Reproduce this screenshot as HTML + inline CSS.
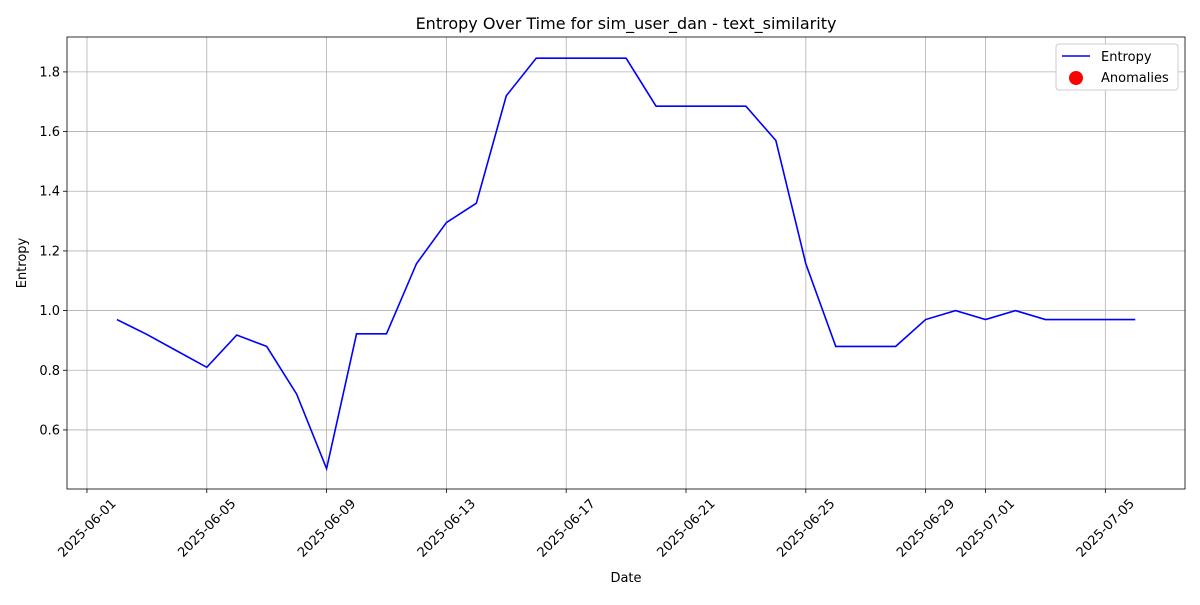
<!DOCTYPE html>
<html><head><meta charset="utf-8"><style>
body{margin:0;background:#fff;font-family:"Liberation Sans","DejaVu Sans",sans-serif;}
svg text{font-family:"DejaVu Sans","Liberation Sans",sans-serif;}
</style></head><body>
<svg id="c" width="1200" height="600" xmlns="http://www.w3.org/2000/svg"></svg>
<script>
const dates=["2025-06-02","2025-06-03","2025-06-04","2025-06-05","2025-06-06","2025-06-07","2025-06-08","2025-06-09","2025-06-10","2025-06-11","2025-06-12","2025-06-13","2025-06-14","2025-06-15","2025-06-16","2025-06-17","2025-06-18","2025-06-19","2025-06-20","2025-06-21","2025-06-22","2025-06-23","2025-06-24","2025-06-25","2025-06-26","2025-06-27","2025-06-28","2025-06-29","2025-06-30","2025-07-01","2025-07-02","2025-07-03","2025-07-04","2025-07-05","2025-07-06"];
const entropy=[0.97,0.92,0.865,0.81,0.918,0.88,0.72,0.47,0.922,0.922,1.157,1.295,1.36,1.72,1.846,1.846,1.846,1.846,1.685,1.685,1.685,1.685,1.57,1.157,0.88,0.88,0.88,0.97,1.0,0.97,1.0,0.97,0.97,0.97,0.97];
const xTicks=["2025-06-01","2025-06-05","2025-06-09","2025-06-13","2025-06-17","2025-06-21","2025-06-25","2025-06-29","2025-07-01","2025-07-05"];
const yTicks=[0.6,0.8,1.0,1.2,1.4,1.6,1.8];
const L=67,R=1185,T=37,B=489;
const d0=Date.UTC(2025,5,1);
function day(s){const p=s.split('-');return (Date.UTC(+p[0],+p[1]-1,+p[2])-d0)/864e5;}
const xmin=-0.667,xmax=36.66,ymin=0.402,ymax=1.917;
const X=d=>L+(day(d)-xmin)/(xmax-xmin)*(R-L);
const Y=v=>B-(v-ymin)/(ymax-ymin)*(B-T);
const svg=document.getElementById('c');const NS="http://www.w3.org/2000/svg";
function el(t,a,txt){const e=document.createElementNS(NS,t);for(const k in a)e.setAttribute(k,a[k]);if(txt!=null)e.textContent=txt;svg.appendChild(e);return e;}
let e;
e=el('rect',{x:L,y:T,width:R-L,height:B-T,fill:'#fff'});


xTicks.forEach(t=>{const x=X(t);
 e=el('line',{x1:x,x2:x,y1:T,y2:B,stroke:'#b0b0b0','stroke-width':0.8});
 
 
 el('line',{x1:x,x2:x,y1:B,y2:B+4,stroke:'#000','stroke-width':0.8});
 const cx=x+3,cy=B+42;
 e=el('text',{x:cx,y:cy,'font-size':13,'text-anchor':'middle',transform:`rotate(-45 ${cx} ${cy})`},t);
 
 
});
yTicks.forEach(v=>{const y=Y(v);
 e=el('line',{x1:L,x2:R,y1:y,y2:y,stroke:'#b0b0b0','stroke-width':0.8});
 
 
 el('line',{x1:L-4,x2:L,y1:y,y2:y,stroke:'#000','stroke-width':0.8});
 e=el('text',{x:L-7,y:y+4.5,'font-size':13,'text-anchor':'end'},v.toFixed(1));
 
 
});
e=el('polyline',{points:dates.map((d,i)=>X(d)+','+Y(entropy[i])).join(' '),fill:'none',stroke:'#0000ff','stroke-width':1.6});


e=el('rect',{x:L,y:T,width:R-L,height:B-T,fill:'none',stroke:'#000','stroke-width':0.8});


e=el('text',{x:(L+R)/2,y:29,'font-size':16,'text-anchor':'middle'},'Entropy Over Time for sim_user_dan - text_similarity');


e=el('text',{x:(L+R)/2,y:582,'font-size':13,'text-anchor':'middle'},'Date');


e=el('text',{x:26,y:263,'font-size':13,'text-anchor':'middle',transform:'rotate(-90 26 263)'},'Entropy');


e=el('rect',{x:1056,y:44,width:122,height:46,rx:3,fill:'#fff',stroke:'#ccc','stroke-width':1});


el('line',{x1:1062,x2:1090,y1:56,y2:56,stroke:'#0000ff','stroke-width':1.6});
e=el('text',{x:1101,y:61,'font-size':13},'Entropy');


el('circle',{cx:1076,cy:78,r:7,fill:'#ff0000'});
e=el('text',{x:1101,y:82,'font-size':13},'Anomalies');


</script>
</body></html>
